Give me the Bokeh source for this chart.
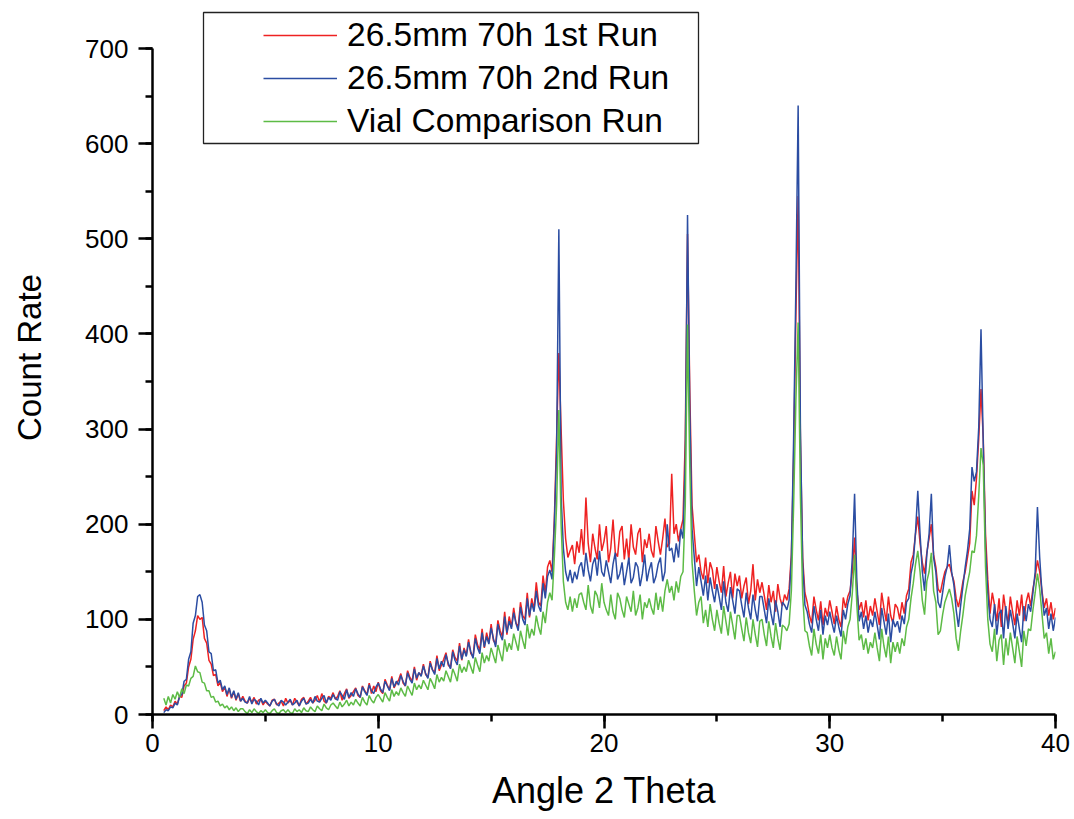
import numpy as np
from bokeh.plotting import figure
from bokeh.models import Legend, LegendItem, SingleIntervalTicker, BoxAnnotation, Range1d
from bokeh.embed import file_html
from bokeh.resources import INLINE

# ---------------- data ----------------
ANGLE_START = 0.5   # degrees 2-theta of first sample
ANGLE_STEP = 0.1    # sampling step of the values below

SERIES_NAMES = ["26.5mm 70h 1st Run", "26.5mm 70h 2nd Run", "Vial Comparison Run"]

RUN1 = [
    4, 8, 5, 10, 8,
    14, 11, 19, 18, 30, 33, 50, 58, 79, 88,
    104, 100, 102, 80, 75, 57, 53, 41, 42, 30,
    34, 24, 29, 19, 27, 17, 24, 15, 22, 14,
    19, 14, 12, 17, 13, 18, 11, 15, 16, 10,
    14, 11, 9, 15, 16, 10, 12, 14, 9, 17,
    12, 15, 10, 17, 13, 9, 16, 18, 11, 14,
    18, 12, 15, 20, 13, 22, 14, 12, 19, 17,
    23, 16, 19, 25, 15, 22, 27, 17, 20, 24,
    28, 20, 18, 30, 25, 21, 33, 22, 30, 24,
    34, 25, 22, 37, 31, 26, 40, 28, 33, 36,
    43, 33, 30, 46, 39, 35, 50, 36, 44, 41,
    53, 42, 39, 56, 47, 44, 62, 46, 52, 58,
    65, 52, 49, 68, 60, 56, 75, 57, 70, 62,
    79, 64, 61, 84, 73, 68, 90, 70, 86, 75,
    95, 78, 74, 99, 88, 82, 108, 84, 103, 92,
    112, 96, 92, 118, 104, 100, 128, 102, 122, 110,
    139, 118, 114, 146, 128, 155, 162, 150, 205, 290,
    380, 300, 225, 185, 165, 172, 178, 158, 182, 170,
    195, 168, 228, 180, 160, 190, 175, 163, 200, 172,
    182, 198, 160, 175, 205, 170, 166, 192, 198, 163,
    185, 162, 200, 176, 168, 190, 196, 160, 184, 175,
    190, 172, 165, 198, 182, 168, 185, 206, 176, 180,
    253, 190, 200, 182, 195, 205, 290, 505, 340, 220,
    190, 160, 168, 150, 142, 165, 138, 160, 152, 132,
    155, 140, 128, 156, 124, 138, 150, 122, 148, 135,
    146, 122, 135, 144, 116, 130, 158, 120, 142, 128,
    139, 125, 110, 136, 118, 130, 108, 137, 122, 114,
    126, 120, 132, 168, 270, 420, 545, 290, 165, 128,
    118, 104, 96, 124, 110, 99, 119, 94, 112, 103,
    120, 108, 95, 114, 100, 92, 123, 112, 124, 130,
    150, 186, 130, 110, 118, 102, 120, 99, 114, 104,
    122, 108, 94, 128, 112, 98, 124, 104, 96, 116,
    112, 100, 118, 106, 125, 132, 160, 168, 190, 208,
    180, 160, 148, 170, 185, 200, 168, 155, 132, 128,
    140, 150, 155, 158, 148, 140, 122, 113, 125, 140,
    150, 165, 180, 235, 220, 248, 290, 342, 290, 190,
    142, 106, 128, 115, 98, 122, 92, 126, 108, 96,
    124, 108, 94, 120, 104, 126, 98, 118, 128, 114,
    132, 145, 162, 150, 130, 112, 122, 104, 118, 100,
    112,
]

RUN2 = [
    2, 5, 4, 8, 7,
    12, 10, 19, 21, 35, 37, 58, 66, 96, 104,
    124, 126, 118, 94, 88, 66, 64, 46, 47, 33,
    36, 26, 30, 21, 28, 18, 25, 16, 23, 14,
    17, 13, 12, 19, 11, 16, 14, 10, 17, 12,
    15, 12, 9, 14, 16, 11, 9, 15, 13, 10,
    13, 16, 10, 12, 15, 9, 14, 17, 11, 12,
    16, 12, 19, 14, 13, 17, 20, 12, 18, 15,
    21, 17, 15, 24, 20, 16, 26, 18, 23, 19,
    27, 22, 18, 29, 24, 20, 31, 25, 22, 29,
    33, 27, 23, 35, 30, 25, 38, 29, 35, 31,
    41, 35, 30, 44, 37, 33, 48, 38, 44, 40,
    51, 43, 38, 54, 47, 42, 59, 48, 56, 50,
    63, 54, 48, 66, 57, 52, 72, 58, 68, 61,
    76, 66, 59, 80, 70, 64, 86, 71, 82, 74,
    91, 80, 71, 95, 84, 78, 103, 86, 98, 90,
    107, 96, 88, 113, 100, 94, 122, 104, 117, 108,
    130, 114, 108, 138, 122, 145, 152, 142, 200, 275,
    510, 230, 175, 150, 140, 152, 138, 150, 142, 155,
    160, 145, 170, 152, 140, 158, 165, 146, 172, 150,
    145, 162, 150, 138, 158, 170, 142, 148, 160, 136,
    150, 165, 138, 144, 160, 155, 135, 148, 168, 140,
    152, 160, 138, 145, 158, 165, 140, 150, 200, 172,
    175, 160, 180, 165, 195, 185, 265, 525, 320, 195,
    165, 135, 155, 140, 125, 146, 120, 144, 130, 118,
    137, 124, 110, 140, 118, 108, 134, 120, 106, 132,
    130, 115, 102, 128, 112, 100, 126, 110, 98, 124,
    124, 110, 96, 122, 106, 94, 120, 108, 92, 118,
    115, 110, 120, 165, 290, 450, 640, 300, 160, 115,
    108, 95, 86, 114, 100, 88, 110, 84, 104, 94,
    108, 96, 86, 104, 92, 82, 110, 100, 116, 125,
    165, 232, 140, 98, 108, 90, 104, 86, 100, 92,
    108, 94, 79, 112, 98, 84, 106, 76, 100, 92,
    98, 86, 104, 95, 118, 122, 148, 160, 192, 235,
    190, 150, 130, 168, 190, 232, 165, 150, 118, 112,
    128, 145, 155, 178, 150, 136, 110, 92, 115, 135,
    155, 172, 195, 260, 245, 255, 302, 405, 285, 175,
    128, 100, 92, 116, 84, 106, 110, 80, 114, 90,
    110, 96, 80, 106, 90, 76, 114, 98, 116, 108,
    128, 150, 218, 165, 128, 104, 112, 90, 106, 88,
    102,
]

VIAL = [
    17, 10, 19, 12, 21,
    16, 24, 18, 27, 22, 31, 30, 38, 40, 51,
    45, 44, 34, 33, 25, 25, 18, 19, 13, 14,
    9, 11, 7, 9, 5, 8, 4, 7, 3, 6,
    6, 3, 1, 5, 2, 6, 3, 1, 4, 2,
    5, 2, 1, 4, 6, 2, 1, 4, 5, 2,
    5, 2, 1, 6, 3, 5, 2, 7, 4, 3,
    8, 5, 3, 9, 6, 4, 11, 7, 5, 10,
    12, 9, 6, 13, 8, 11, 15, 9, 13, 10,
    16, 12, 9, 18, 13, 10, 20, 15, 12, 18,
    21, 17, 13, 23, 18, 14, 26, 19, 24, 20,
    28, 23, 19, 30, 25, 20, 33, 26, 31, 27,
    36, 31, 26, 38, 33, 27, 42, 34, 39, 35,
    46, 40, 34, 48, 42, 35, 53, 44, 50, 45,
    57, 50, 43, 60, 52, 45, 65, 54, 62, 56,
    70, 62, 54, 73, 64, 56, 79, 66, 75, 68,
    85, 76, 67, 88, 78, 69, 95, 80, 90, 83,
    104, 92, 84, 108, 96, 118, 128, 120, 165, 220,
    320, 200, 140, 118, 110, 124, 108, 122, 112, 126,
    128, 118, 110, 136, 114, 106, 130, 125, 112, 138,
    118, 110, 104, 126, 108, 100, 128, 122, 110, 102,
    124, 116, 108, 130, 104, 112, 126, 100, 118, 112,
    122, 112, 105, 128, 110, 124, 108, 130, 142, 128,
    135, 120, 140, 128, 145, 150, 220, 410, 260, 160,
    130, 104, 118, 124, 96, 110, 92, 116, 100, 88,
    110, 96, 85, 114, 98, 83, 108, 94, 79, 104,
    104, 90, 77, 102, 86, 75, 100, 84, 71, 98,
    100, 84, 72, 98, 82, 70, 96, 80, 68, 94,
    92, 88, 95, 130, 220, 330, 412, 230, 125, 88,
    86, 72, 62, 90, 74, 64, 84, 58, 80, 70,
    84, 70, 62, 82, 68, 58, 88, 74, 92, 100,
    128, 168, 115, 78, 84, 68, 80, 64, 76, 70,
    86, 70, 56, 90, 72, 60, 82, 54, 76, 66,
    76, 64, 80, 72, 92, 100, 122, 138, 158, 172,
    150, 120, 105, 140, 150, 170, 130, 118, 84, 88,
    105, 118, 125, 132, 122, 106, 80, 67, 88, 105,
    125, 138, 150, 172, 170, 188, 230, 280, 262, 155,
    100, 74, 66, 90, 56, 78, 84, 52, 80, 62,
    86, 70, 54, 82, 66, 50, 88, 72, 90, 88,
    110, 128, 148, 132, 106, 80, 86, 64, 80, 58,
    66,
]

X_TICK_INTERVAL = 10
Y_TICK_INTERVAL = 100
X_LIMITS = (0, 40)
Y_AXIS_BOUNDS = (0, 700)

COLORS = ["#EE2222", "#2B4DA2", "#5DBB46"]
FONT = "Liberation Sans"

# ---------------- figure ----------------
angles = np.round(ANGLE_START + ANGLE_STEP * np.arange(len(RUN1)), 2)

FRAME_W, FRAME_H = 903, 714
PX_PER_UNIT = 666 / 700.0          # 700 counts span 666 px
y_top = FRAME_H / PX_PER_UNIT      # frame reaches to the top edge (room for legend)

p = figure(
    frame_width=FRAME_W, frame_height=FRAME_H,
    x_range=Range1d(*X_LIMITS), y_range=Range1d(0, y_top),
    output_backend="svg", toolbar_location=None,
    min_border_left=152, min_border_right=19, min_border_top=0, min_border_bottom=60,
)
p.outline_line_color = None
p.xgrid.visible = False
p.ygrid.visible = False
p.background_fill_color = "white"
p.border_fill_color = "white"

renderers = []
for vals, col in zip([RUN1, RUN2, VIAL], COLORS):
    r = p.line(angles, vals, line_color=col, line_width=1.5)
    renderers.append(r)

p.xaxis.ticker = SingleIntervalTicker(interval=X_TICK_INTERVAL, num_minor_ticks=2)
p.yaxis.ticker = SingleIntervalTicker(interval=Y_TICK_INTERVAL, num_minor_ticks=2)
p.yaxis.bounds = Y_AXIS_BOUNDS
p.xaxis.axis_label = "Angle 2 Theta"
p.yaxis.axis_label = "Count Rate"

for ax in (p.xaxis, p.yaxis):
    ax.axis_line_width = 2.5
    ax.axis_line_color = "black"
    ax.major_tick_line_width = 2.5
    ax.minor_tick_line_width = 2.5
    ax.major_tick_line_color = "black"
    ax.minor_tick_line_color = "black"
    ax.major_tick_in = 0
    ax.major_tick_out = 14
    ax.minor_tick_in = 0
    ax.minor_tick_out = 7
    ax.major_label_text_font = FONT
    ax.major_label_text_font_size = "26px"
    ax.major_label_text_color = "black"
    ax.axis_label_text_font = FONT
    ax.axis_label_text_font_style = "normal"
    ax.axis_label_text_color = "black"

p.yaxis.axis_label_text_font_size = "33px"
p.xaxis.axis_label_text_font_size = "36px"
p.xaxis.major_label_standoff = 5
p.yaxis.major_label_standoff = 10
p.xaxis.axis_label_standoff = 15
p.yaxis.axis_label_standoff = 34

legend = Legend(
    items=[LegendItem(label=n, renderers=[r]) for n, r in zip(SERIES_NAMES, renderers)],
    location=(105, 568),
    padding=6, spacing=5, glyph_width=74, glyph_height=36, label_height=36,
    label_standoff=10, label_text_font=FONT, label_text_font_size="33.5px",
    label_text_color="black",
    border_line_alpha=0, background_fill_alpha=0,
)
p.add_layout(legend, "center")

box = BoxAnnotation(
    left=203, right=698, top=12, bottom=143,
    left_units="canvas", right_units="canvas", top_units="canvas", bottom_units="canvas",
    fill_alpha=0, line_color="#222222", line_width=1.3, line_alpha=1,
)
p.add_layout(box)

open("out.html", "w").write(file_html(p, INLINE))
